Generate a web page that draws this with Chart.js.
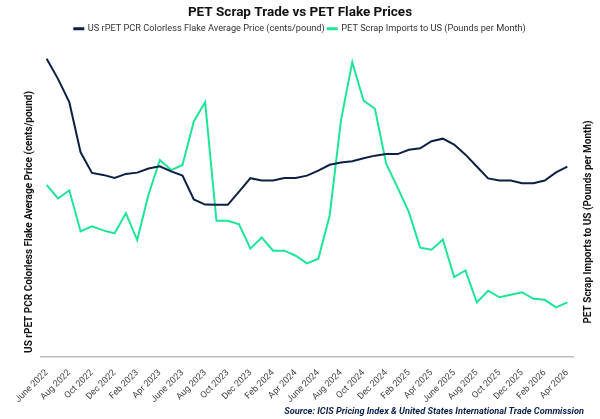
<!DOCTYPE html>
<html>
<head>
<meta charset="utf-8">
<script src="https://cdn.jsdelivr.net/npm/chart.js@4.4.1/dist/chart.umd.min.js"></script>
<style>
  html, body { margin: 0; padding: 0; background: #fff; }
  #wrap { position: relative; width: 600px; height: 419px; }
</style>
</head>
<body>
<div id="wrap"><canvas id="pricesChart"></canvas></div>
<script>
const months = [
  'June 2022', 'July 2022', 'Aug 2022', 'Sep 2022', 'Oct 2022', 'Nov 2022', 'Dec 2022',
  'Jan 2023', 'Feb 2023', 'Mar 2023', 'Apr 2023', 'May 2023', 'June 2023', 'July 2023',
  'Aug 2023', 'Sep 2023', 'Oct 2023', 'Nov 2023', 'Dec 2023',
  'Jan 2024', 'Feb 2024', 'Mar 2024', 'Apr 2024', 'May 2024', 'June 2024', 'July 2024',
  'Aug 2024', 'Sep 2024', 'Oct 2024', 'Nov 2024', 'Dec 2024',
  'Jan 2025', 'Feb 2025', 'Mar 2025', 'Apr 2025', 'May 2025', 'June 2025', 'July 2025',
  'Aug 2025', 'Sep 2025', 'Oct 2025', 'Nov 2025', 'Dec 2025',
  'Jan 2026', 'Feb 2026', 'Mar 2026', 'Apr 2026'
];

// cents/pound
const flakePrice = [
  117.5, 109.6, 100.4, 80.6, 72.5, 71.7, 70.5,
  72.1, 72.6, 74.2, 75.1, 73.1, 71.4, 62.0,
  60.0, 59.9, 59.9, 65.1, 70.4,
  69.5, 69.5, 70.5, 70.5, 71.4, 73.4, 75.7,
  76.6, 77.1, 78.3, 79.3, 79.9,
  79.9, 81.6, 82.2, 85.0, 86.0, 83.7, 79.7,
  75.0, 70.3, 69.5, 69.5, 68.4,
  68.4, 69.5, 72.7, 75.0
];

// million pounds per month
const scrapImports = [
  33.9, 31.2, 32.8, 24.7, 25.7, 24.9, 24.3,
  28.3, 23.0, 32.0, 38.8, 36.8, 37.8, 46.4,
  50.2, 26.8, 26.8, 26.1, 21.3,
  23.5, 20.9, 20.9, 19.9, 18.4, 19.3, 27.8,
  46.6, 58.1, 50.5, 48.9, 38.0,
  33.4, 28.5, 21.5, 21.1, 23.1, 15.7, 17.0,
  10.7, 13.0, 11.7, 12.2, 12.7,
  11.4, 11.2, 9.7, 10.7
];

const navy = '#0c1f45';
const green = '#1de597';

// side titles both read bottom-to-top, plus the source line
const extraText = {
  id: 'extraText',
  afterDraw(chart) {
    const c = chart.ctx;
    c.save();
    c.fillStyle = '#111';
    c.font = 'bold 10px Roboto, sans-serif';
    c.textAlign = 'center';
    c.textBaseline = 'middle';
    [[29, 'US rPET PCR Colorless Flake Average Price (cents/pound)'],
     [588, 'PET Scrap Imports to US (Pounds per Month)']].forEach(([x, txt]) => {
      c.save();
      c.translate(x, 222);
      c.rotate(-Math.PI / 2);
      c.fillText(txt, 0, 0);
      c.restore();
    });
    c.fillStyle = '#0b1f4d';
    c.font = 'italic bold 9.2px Roboto, sans-serif';
    c.textAlign = 'right';
    c.fillText('Source: ICIS Pricing Index & United States International Trade Commission', 584, 412);
    c.restore();
  }
};

// empty side axes, only there to hold room for the titles above
const blankAxis = (pos, max, w) => ({
  position: pos,
  min: 0,
  max: max,
  ticks: { display: false },
  grid: { display: false },
  border: { display: false },
  afterFit: scale => { scale.width = w; }
});

const ctx = document.getElementById('pricesChart').getContext('2d');
window.myChart = new Chart(ctx, {
  type: 'line',
  data: {
    labels: months,
    datasets: [
      {
        label: 'US rPET PCR Colorless Flake Average Price (cents/pound)',
        data: flakePrice,
        borderColor: navy,
        backgroundColor: navy,
        borderWidth: 2,
        pointRadius: 0,
        tension: 0,
        yAxisID: 'y'
      },
      {
        label: 'PET Scrap Imports to US (Pounds per Month)',
        data: scrapImports,
        borderColor: green,
        backgroundColor: green,
        borderWidth: 2,
        pointRadius: 0,
        tension: 0,
        yAxisID: 'y1'
      }
    ]
  },
  options: {
    responsive: true,
    maintainAspectRatio: false,
    animation: false,
    layout: { padding: { left: 0, right: 0, top: 0, bottom: 11 } },
    plugins: {
      title: {
        display: true,
        text: 'PET Scrap Trade vs PET Flake Prices',
        color: '#111',
        font: { family: 'Roboto, sans-serif', size: 13.5, weight: 'bold' },
        padding: { top: 5, bottom: 0 }
      },
      legend: {
        labels: {
          color: '#333',
          font: { family: 'Roboto, sans-serif', size: 9.2 },
          boxWidth: 9,
          boxHeight: 1,
          padding: 3
        }
      },
      tooltip: { enabled: false }
    },
    scales: {
      x: {
        offset: true,
        grid: { display: false },
        border: { display: true, color: '#bdbdbd', width: 1.5 },
        ticks: {
          autoSkip: false,
          minRotation: 45,
          maxRotation: 45,
          color: '#444',
          font: { family: 'Roboto, sans-serif', size: 9 },
          callback: function (value, index) {
            return index % 2 === 0 ? this.getLabelForValue(value) : '';
          }
        }
      },
      y: blankAxis('left', 123.6, 41),
      y1: blankAxis('right', 61.8, 27)
    }
  },
  plugins: [extraText]
});
</script>
</body>
</html>
